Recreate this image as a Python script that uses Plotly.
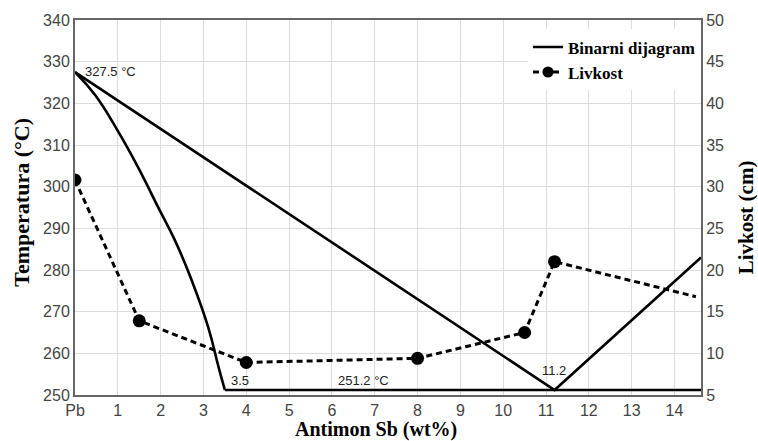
import plotly.graph_objects as go

# Pb-Sb binary diagram (temperature, left axis)
liquidus_x = [0.0, 11.2, 14.62]
liquidus_t = [327.5, 251.2, 283.0]

solidus_x = [0.0, 0.47, 1.01, 1.48, 1.95, 2.34, 2.73, 3.11, 3.35, 3.5]
solidus_t = [327.5, 322.0, 313.2, 304.5, 294.9, 287.0, 277.4, 266.3, 256.8, 251.2]

eutectic_x = [3.5, 14.62]
eutectic_t = [251.2, 251.2]

# Fluidity measurements (right axis, cm)
livkost_x = [0.0, 1.5, 4.0, 8.0, 10.5, 11.2, 14.5]
livkost_cm = [30.8, 13.9, 8.9, 9.4, 12.5, 21.0, 16.8]
livkost_marker = [13, 13, 13, 13, 13, 13, 0]

x_ticks = list(range(0, 15))
x_ticklabels = ["Pb"] + [str(i) for i in range(1, 15)]

serif = "Liberation Serif, Times New Roman, serif"
sans = "Liberation Sans, Arial, sans-serif"

fig = go.Figure()

fig.add_trace(go.Scatter(
    x=liquidus_x, y=liquidus_t, mode="lines",
    line=dict(color="black", width=2.6),
    name="Binarni dijagram", legendgroup="bin", showlegend=True))
fig.add_trace(go.Scatter(
    x=solidus_x, y=solidus_t, mode="lines",
    line=dict(color="black", width=2.6, shape="spline", smoothing=1.3),
    legendgroup="bin", showlegend=False))
fig.add_trace(go.Scatter(
    x=eutectic_x, y=eutectic_t, mode="lines",
    line=dict(color="black", width=2.6),
    legendgroup="bin", showlegend=False))

fig.add_trace(go.Scatter(
    x=livkost_x, y=livkost_cm, mode="lines+markers", yaxis="y2",
    line=dict(color="black", width=3, dash="6px,4px"),
    marker=dict(color="black", size=livkost_marker, opacity=1,
                line=dict(color="black", width=0)),
    name="Livkost"))

notes = [
    (0.19, 327.6, "327.5 °C", "left"),
    (3.85, 253.6, "3.5", "center"),
    (6.73, 253.6, "251.2 °C", "center"),
    (11.18, 256.0, "11.2", "center"),
]
for nx, ny, txt, anchor in notes:
    fig.add_annotation(x=nx, y=ny, text=txt, showarrow=False,
                       xanchor=anchor, yanchor="middle",
                       font=dict(family=sans, size=13, color="#222"))

# Axis titles
fig.add_annotation(xref="paper", yref="paper", x=0.481, y=-0.093,
                   text="Antimon Sb (wt%)", showarrow=False,
                   xanchor="center", yanchor="middle",
                   font=dict(family=serif, size=20, color="black", weight="bold"))
fig.add_annotation(xref="paper", yref="paper", x=-0.085, y=0.515,
                   text="Temperatura (°C)", showarrow=False, textangle=-90,
                   xanchor="center", yanchor="middle",
                   font=dict(family=serif, size=22, color="black", weight="bold"))
fig.add_annotation(xref="paper", yref="paper", x=1.071, y=0.475,
                   text="Livkost (cm)", showarrow=False, textangle=-90,
                   xanchor="center", yanchor="middle",
                   font=dict(family=serif, size=21, color="black", weight="bold"))

fig.update_layout(
    width=758, height=441,
    margin=dict(l=75, r=57, t=18, b=46),
    paper_bgcolor="white", plot_bgcolor="white",
    showlegend=True,
    legend=dict(x=1, y=0.975, xanchor="right", yanchor="top",
                bgcolor="white", borderwidth=0,
                font=dict(family=serif, size=17, color="black", weight="bold"),
                tracegroupgap=0, itemwidth=30),
    xaxis=dict(range=[0, 14.62], tickvals=x_ticks, ticktext=x_ticklabels,
               showgrid=True, gridcolor="#dddddd", gridwidth=1,
               showline=True, linecolor="#666", linewidth=2, mirror=True,
               ticks="", zeroline=False,
               tickfont=dict(family=sans, size=16, color="#444")),
    yaxis=dict(range=[250, 340], dtick=10,
               showgrid=True, gridcolor="#dddddd", gridwidth=1,
               showline=True, linecolor="#666", linewidth=2, mirror=True,
               ticks="", zeroline=False,
               tickfont=dict(family=sans, size=16, color="#444")),
    yaxis2=dict(range=[5, 50], dtick=5, overlaying="y", side="right",
                showgrid=False, showline=True, linecolor="#666", linewidth=2,
                ticks="", zeroline=False,
                tickfont=dict(family=sans, size=16, color="#444")),
)

fig.write_html("out.html")
